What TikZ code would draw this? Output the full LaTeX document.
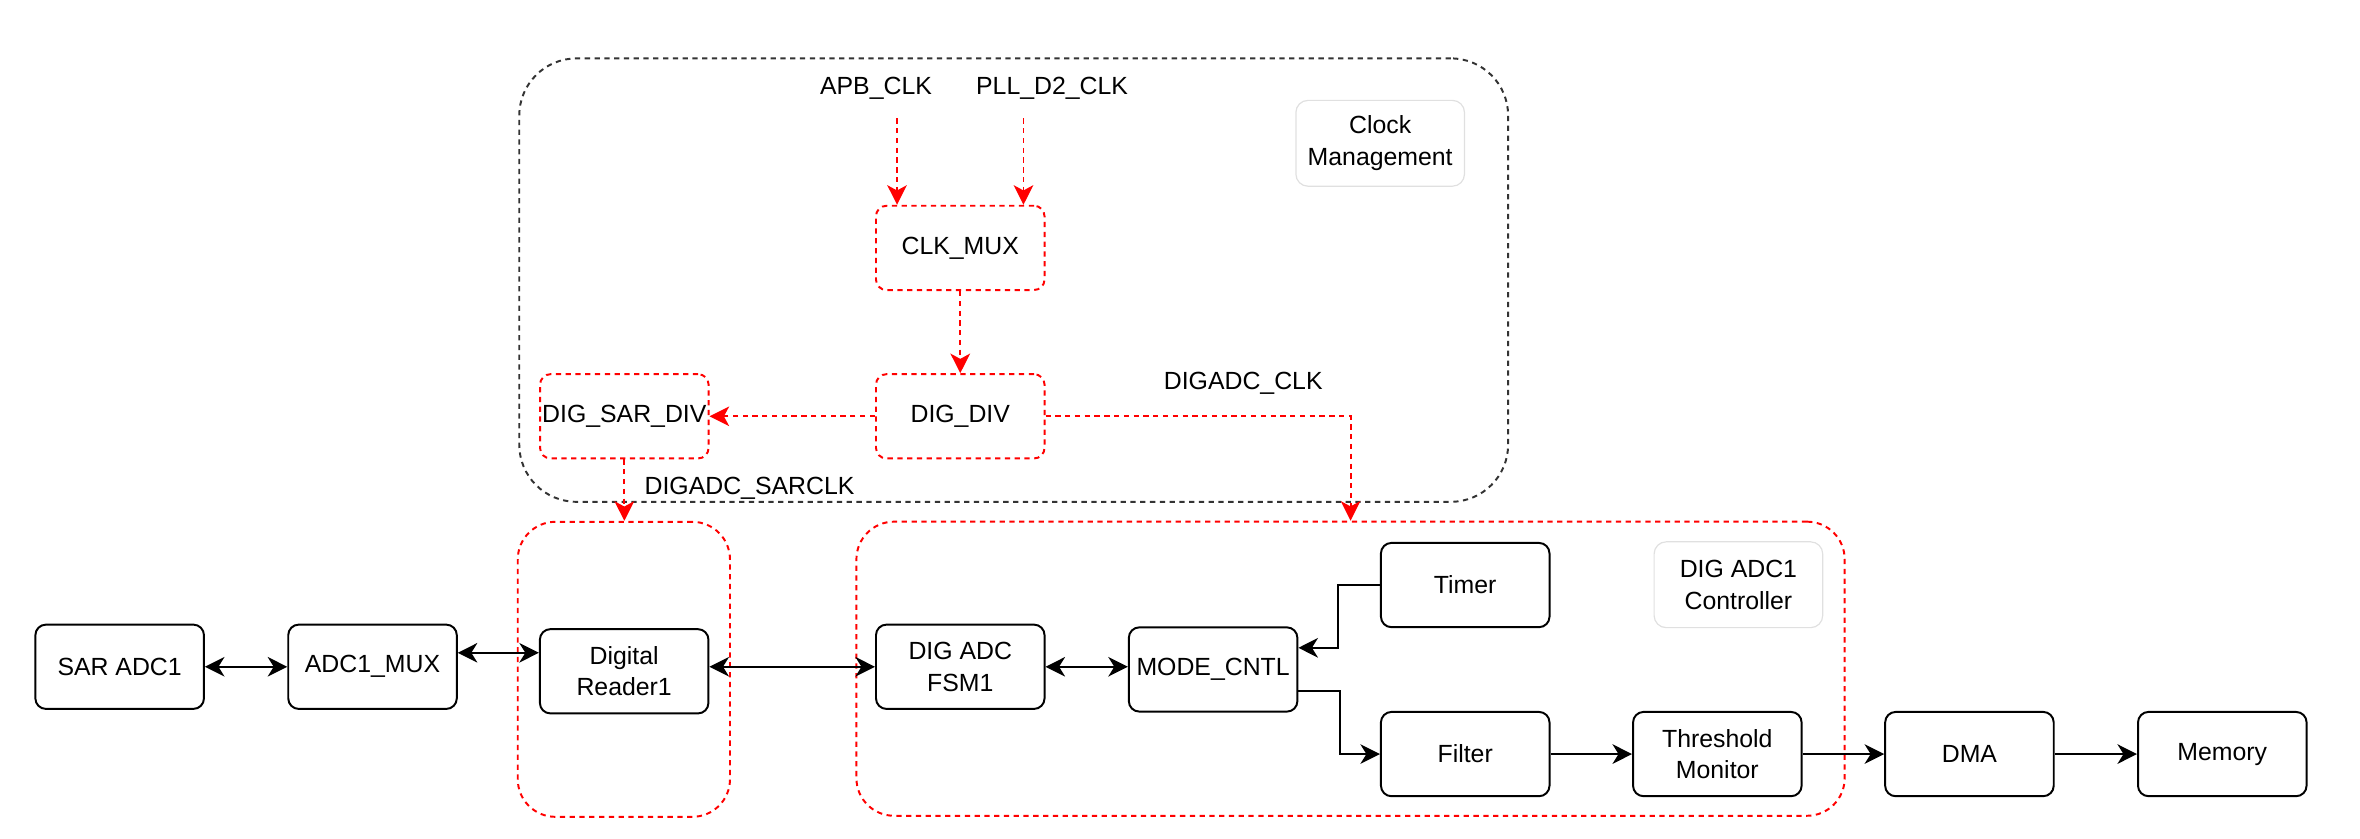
\documentclass[tikz,border=0pt]{standalone}
\usepackage{fontspec}
\setmainfont{Liberation Sans}
\usetikzlibrary{arrows.meta}

\begin{document}
\begin{tikzpicture}[x=1pt, y=-1pt,
  font=\fontsize{16.5}{21}\selectfont,
  blk/.style={draw, line width=1.3pt, rounded corners=7pt, minimum width=112pt, minimum height=56pt, inner sep=0pt, align=center},
  clkblk/.style={blk, draw=red, dash pattern=on 3.5pt off 3pt},
  grp/.style={draw=red, line width=1.3pt, dash pattern=on 3.5pt off 3pt, rounded corners=25pt, inner sep=0pt},
  lbl/.style={draw=black!12, line width=0.8pt, rounded corners=8pt, minimum width=112pt, minimum height=57pt, inner sep=0pt, align=center},
  arr/.style={line width=1.3pt, -{Stealth[length=13pt, width=13pt, inset=4pt]}},
  biarr/.style={line width=1.3pt, {Stealth[length=13pt, width=13pt, inset=4pt]}-{Stealth[length=13pt, width=13pt, inset=4pt]}},
  rarr/.style={draw=red, line width=1.3pt, dash pattern=on 3.5pt off 3pt, -{Stealth[length=13pt, width=13pt, inset=3.5pt]}}]
\useasboundingbox (0,0) rectangle (1568,557);

\node (clkgrp) [draw=black!80, line width=1.3pt, dash pattern=on 3.5pt off 3pt, rounded corners=38pt, minimum width=657pt, minimum height=294.6pt] at (673.5,186.1) {};
\node (rdgrp) [grp, minimum width=141pt, minimum height=196pt] at (414.5,444.7) {};
\node (ctrlgrp) [grp, minimum width=656.6pt, minimum height=195.4pt] at (897.3,444.3) {};

\node (clklbl) [lbl] at (917,95.2) {Clock\\Management};
\node (ctrllbl) [lbl] at (1155,388.5) {DIG ADC1\\Controller};

\node (apb) at (582,58.7) {APB\_CLK};
\node (pll) at (699,58.7) {PLL\_D2\_CLK};
\node (clkmux) [clkblk] at (638,164.7) {CLK\_MUX};
\node (digdiv) [clkblk] at (638,276.6) {DIG\_DIV};
\node (sardiv) [clkblk] at (414.8,276.6) {DIG\_SAR\_DIV};
\node (clkname) at (826,254.7) {DIGADC\_CLK};
\node (sarclkname) at (498,324.5) {DIGADC\_SARCLK};

\node (saradc) [blk] at (79.5,443) {SAR ADC1};
\node (mux) [blk] at (247.5,443) {ADC1\_MUX};
\node (reader) [blk] at (414.7,446) {Digital\\Reader1};
\node (fsm) [blk] at (638,443) {DIG ADC\\FSM1};
\node (mode) [blk] at (806,444.8) {MODE\_CNTL};
\node (timer) [blk] at (973.5,388.7) {Timer};
\node (filter) [blk] at (973.5,501) {Filter};
\node (thresh) [blk] at (1141,501) {Threshold\\Monitor};
\node (dma) [blk] at (1308.5,501) {DMA};
\node (mem) [blk] at (1476.5,501) {Memory};

\coordinate (a1) at ([xshift=-42pt]clkmux.north);
\coordinate (a2) at ([xshift=42pt]clkmux.north);
\draw [rarr, shorten <=9pt] (a1 |- apb.south) -- (a1);
\draw [rarr, shorten <=9pt] (a2 |- pll.south) -- (a2);
\draw [rarr] (clkmux) -- (digdiv);
\draw [rarr] (digdiv) -- (sardiv);
\draw [rarr] (digdiv.east) -| (ctrlgrp.north);
\draw [rarr] (sardiv.south) -- (sardiv.south |- rdgrp.north);

\coordinate (m1) at ([yshift=9.3pt]mux.east);
\coordinate (m2) at ([yshift=14.4pt]mode.east);
\coordinate (m3) at ([yshift=-14.2pt]mode.east);
\draw [biarr] (saradc) -- (mux);
\draw [biarr] (m1) -- (m1 -| reader.west);
\draw [biarr] (fsm.west -| reader.east) -- (fsm.west);
\draw [biarr] (fsm.east) -- (fsm.east -| mode.west);
\draw [arr] (timer.west) -- ++(-28.1,0) |- (m2);
\draw [arr] (m3) -- ++(27.4,0) |- (filter.west);
\draw [arr] (filter) -- (thresh);
\draw [arr] (thresh) -- (dma);
\draw [arr] (dma) -- (mem);

\end{tikzpicture}
\end{document}
